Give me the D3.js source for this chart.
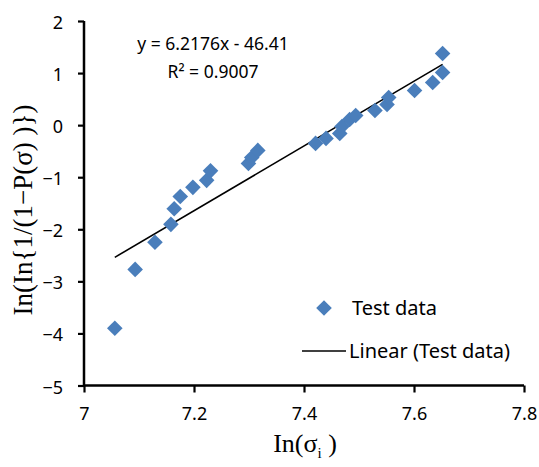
<!DOCTYPE html>
<html>
<head>
<meta charset="utf-8">
<script src="https://cdn.jsdelivr.net/npm/d3@7/dist/d3.min.js"></script>
<style>
  html, body { margin: 0; padding: 0; background: #fff; }
  svg { display: block; }
</style>
</head>
<body>
<svg id="chart" width="539" height="467"></svg>
<script>
// ln(sigma_i) values of the test specimens
const lnSigma = [
  7.056, 7.093, 7.129, 7.158, 7.164, 7.175, 7.198, 7.223, 7.230,
  7.299, 7.305, 7.316,
  7.421, 7.440, 7.465, 7.469, 7.483, 7.494, 7.529, 7.551, 7.554,
  7.601, 7.634, 7.652, 7.652
];
// ln(ln(1/(1-P))) for each specimen
const lnLnP = [
  -3.90, -2.77, -2.25, -1.905, -1.607, -1.37, -1.195, -1.06, -0.878,
  -0.735, -0.62, -0.485,
  -0.351, -0.255, -0.159, -0.025, 0.109, 0.186, 0.282, 0.397, 0.531,
  0.665, 0.819, 1.01, 1.375
];
// Linear fit reported on the chart
const slope = 6.2176;
const intercept = -46.41;
const rSquared = 0.9007;
const xTicks = [7, 7.2, 7.4, 7.6, 7.8];
const yTicks = [-5, -4, -3, -2, -1, 0, 1, 2];

const svg = d3.select("#chart");
const plotLeft = 84, plotRight = 524, plotTop = 21, plotBottom = 385.5;
const x = d3.scaleLinear().domain([7, 7.8]).range([plotLeft, plotRight]);
const y = d3.scaleLinear().domain([-5, 2]).range([plotBottom, plotTop]);

const blue = "#4a7ebb";
const tickFont = "'Noto Sans', 'Open Sans', sans-serif";

// Axes
const xAxis = d3.axisBottom(x).tickValues(xTicks).tickFormat(d3.format("")).tickSizeInner(7).tickSizeOuter(0).tickPadding(14);
const yAxis = d3.axisLeft(y).tickValues(yTicks).tickFormat(d3.format("")).tickSizeInner(6).tickSizeOuter(0).tickPadding(15);

const gx = svg.append("g").attr("transform", `translate(0,${plotBottom})`).call(xAxis);
const gy = svg.append("g").attr("transform", `translate(${plotLeft},0)`).call(yAxis);
[gx, gy].forEach(g => {
  g.select(".domain").attr("stroke", "#000").attr("stroke-width", 2.5);
  g.selectAll(".tick line").attr("stroke", "#000").attr("stroke-width", 2.2);
  g.selectAll(".tick text").attr("fill", "#000").style("font-family", tickFont).style("font-size", "18px");
});
gy.selectAll(".tick text").attr("dy", "0.42em");
gx.selectAll(".tick text").attr("dy", "0.75em");
gy.select(".domain").attr("d", `M0,${plotBottom}V${plotTop}`);
gx.select(".domain").attr("d", `M${plotLeft - 1},0H${plotRight}`);

// Trend line across the data range
const xMin = d3.min(lnSigma), xMax = d3.max(lnSigma);
svg.append("line")
  .attr("x1", x(xMin)).attr("y1", y(slope * xMin + intercept))
  .attr("x2", x(xMax)).attr("y2", y(slope * xMax + intercept))
  .attr("stroke", "#000").attr("stroke-width", 1.6);

// Data points as diamonds
const diamond = d3.symbol().type(d3.symbolDiamond2).size(155);
svg.append("g").selectAll("path")
  .data(lnSigma.map((v, i) => [v, lnLnP[i]]))
  .join("path")
  .attr("d", diamond)
  .attr("transform", d => `translate(${x(d[0])},${y(d[1])})`)
  .attr("fill", blue);

// Equation and R²
svg.append("text").attr("x", 213).attr("y", 50).attr("text-anchor", "middle")
  .style("font-family", tickFont).style("font-size", "17.5px").attr("fill", "#000")
  .text(`y = ${slope}x - ${Math.abs(intercept)}`);
svg.append("text").attr("x", 213).attr("y", 78).attr("text-anchor", "middle")
  .style("font-family", tickFont).style("font-size", "17.5px").attr("fill", "#000")
  .text(`R² = ${rSquared}`);

// Legend
svg.append("path").attr("d", diamond).attr("transform", "translate(324,308)").attr("fill", blue);
svg.append("text").attr("x", 352).attr("y", 315)
  .style("font-family", tickFont).style("font-size", "20px").attr("fill", "#000").text("Test data");
svg.append("line").attr("x1", 302).attr("x2", 346).attr("y1", 351).attr("y2", 351)
  .attr("stroke", "#000").attr("stroke-width", 1.4);
svg.append("text").attr("x", 349).attr("y", 358)
  .style("font-family", tickFont).style("font-size", "20px").attr("fill", "#000").text("Linear (Test data)");

// Axis titles
const serif = "'Liberation Serif', 'Times New Roman', serif";
const xt = svg.append("text").attr("x", 305).attr("y", 452).attr("text-anchor", "middle")
  .style("font-family", serif).style("font-size", "26px").attr("fill", "#000");
xt.append("tspan").text("In(σ");
xt.append("tspan").attr("dy", 6).style("font-size", "15px").text("i");
xt.append("tspan").attr("dy", -6).text(" )");

svg.append("text").attr("transform", "translate(32,210) rotate(-90)").attr("text-anchor", "middle")
  .style("font-family", serif).style("font-size", "27px").attr("fill", "#000")
  .text("In(In{1/(1−P(σ) )})");
</script>
</body>
</html>
